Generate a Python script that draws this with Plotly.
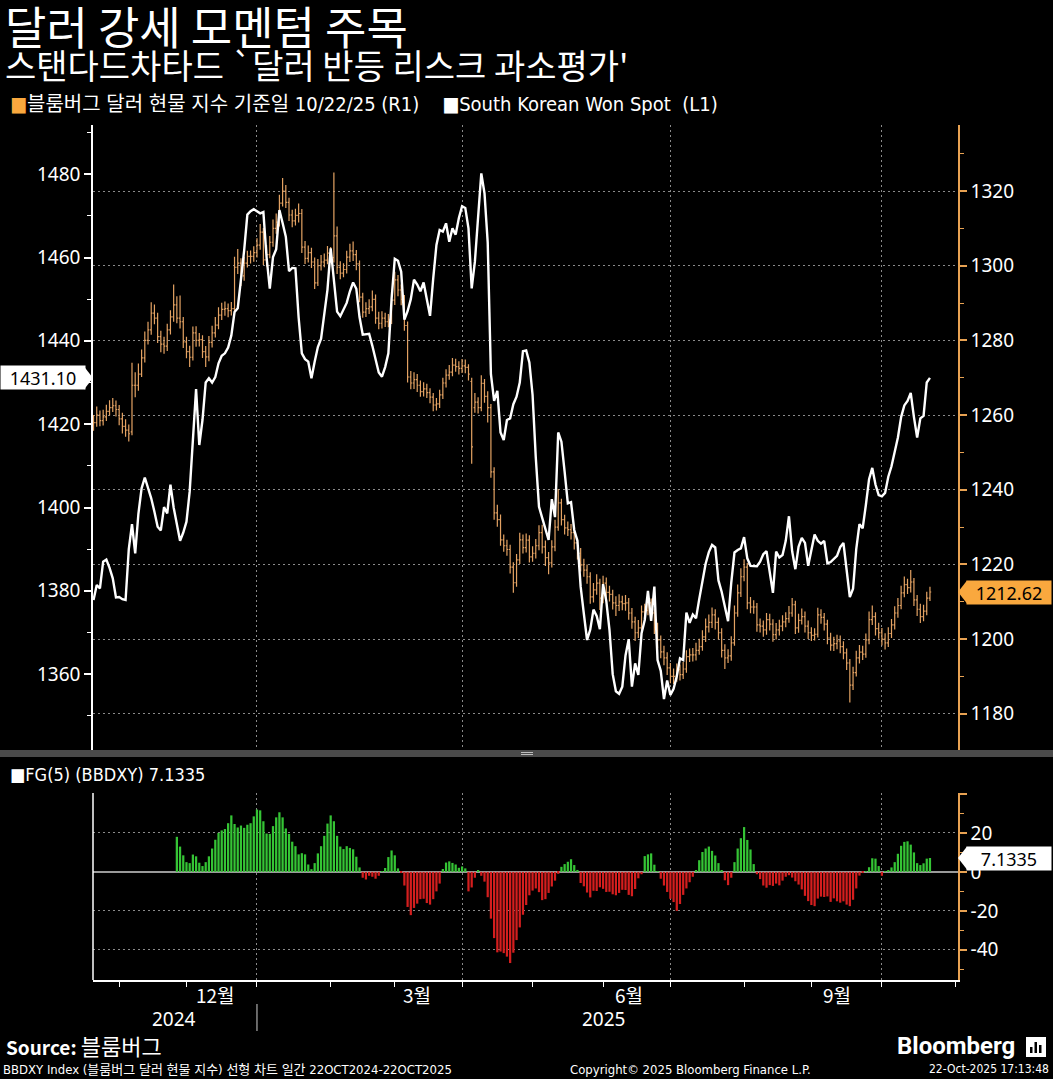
import plotly.graph_objects as go
import pandas as pd

W, H = 1053, 1079

# ---------------- data ----------------
dates = pd.bdate_range("2024-10-22", "2025-10-22")
fg_dates = pd.bdate_range("2024-11-27", "2025-10-22")

krw = [
    1377.8, 1381.4, 1380.6, 1387.0, 1387.5, 1385.5, 1383.0, 1378.4, 1378.5, 1378.0,
    1377.8, 1390.0, 1396.0, 1389.0, 1398.5, 1404.6, 1407.2, 1404.7, 1402.2, 1399.0,
    1395.4, 1394.5, 1400.1, 1398.6, 1405.5, 1400.0, 1395.6, 1392.0, 1394.0, 1396.6,
    1403.8, 1417.0, 1428.4, 1415.0, 1421.0, 1430.0, 1431.0, 1430.0, 1431.3, 1434.6,
    1436.4, 1437.0, 1438.4, 1441.3, 1446.9, 1447.8, 1454.3, 1461.7, 1470.3, 1471.1,
    1471.6, 1471.2, 1470.6, 1470.9, 1460.0, 1452.5, 1460.1, 1462.0, 1471.4, 1468.3,
    1465.0, 1456.7, 1457.5, 1457.4, 1445.6, 1437.0, 1435.6, 1435.0, 1431.0, 1435.0,
    1438.5, 1440.5, 1446.6, 1452.3, 1462.2, 1455.0, 1447.0, 1445.9, 1447.4, 1449.1,
    1451.9, 1454.0, 1452.5, 1445.7, 1441.5, 1441.6, 1441.7, 1438.8, 1435.8, 1432.4,
    1431.4, 1433.7, 1437.0, 1450.0, 1459.7, 1459.2, 1456.6, 1445.1, 1447.1, 1450.0,
    1454.7, 1453.5, 1451.9, 1454.0, 1450.0, 1446.0, 1455.0, 1463.0, 1466.6, 1466.2,
    1468.2, 1463.8, 1467.0, 1465.5, 1469.5, 1472.3, 1471.9, 1467.0, 1452.6, 1459.0,
    1469.7, 1480.2, 1475.4, 1463.6, 1432.0, 1425.6, 1428.0, 1418.0, 1416.2, 1421.0,
    1421.4, 1424.8, 1426.6, 1430.0, 1437.5, 1437.7, 1434.8, 1427.0, 1412.0, 1400.2,
    1397.5, 1395.0, 1392.2, 1402.0, 1397.7, 1418.0, 1415.8, 1408.6, 1401.0, 1401.3,
    1394.6, 1392.0, 1381.0, 1374.5, 1368.2, 1370.7, 1375.5, 1374.0, 1370.8, 1381.6,
    1377.6, 1370.6, 1360.0, 1355.9, 1355.3, 1357.0, 1364.5, 1368.4, 1357.0, 1362.6,
    1359.8, 1369.8, 1373.0, 1380.0, 1372.8, 1381.0, 1363.4, 1360.8, 1354.0, 1358.5,
    1355.0, 1356.5, 1359.5, 1363.8, 1363.4, 1374.8, 1372.3, 1374.3, 1373.4, 1378.0,
    1382.6, 1386.5, 1389.3, 1391.0, 1390.4, 1382.5, 1379.8, 1376.6, 1372.7, 1382.0,
    1389.2, 1389.8, 1390.2, 1392.9, 1387.8, 1386.0, 1385.9, 1385.9, 1387.0, 1388.8,
    1389.5, 1384.0, 1379.5, 1389.4, 1388.0, 1388.6, 1392.0, 1397.9, 1389.5, 1385.2,
    1390.6, 1392.7, 1391.5, 1386.0, 1389.6, 1393.5, 1392.0, 1391.3, 1392.0, 1386.6,
    1386.9, 1387.7, 1388.4, 1390.5, 1391.5, 1385.0, 1378.5, 1380.5, 1390.0, 1396.0,
    1395.0, 1400.6, 1406.8, 1409.5, 1405.5, 1403.0, 1402.7, 1403.5, 1407.4, 1409.9,
    1413.3, 1416.8, 1421.7, 1424.5, 1425.6, 1427.5, 1421.7, 1416.8, 1421.4, 1422.0,
    1430.0, 1431.1,
]

bb_open = [
    1257.5, 1258.0, 1260.0, 1258.5, 1259.5, 1261.0, 1262.0, 1262.5, 1261.5, 1259.0,
    1257.0, 1256.0, 1255.5, 1268.0, 1268.0, 1271.0, 1275.3, 1280.0, 1282.8, 1287.3,
    1286.0, 1281.0, 1279.0, 1278.5, 1282.8, 1286.3, 1289.5, 1286.0, 1285.0, 1279.6,
    1277.0, 1275.5, 1282.0, 1280.0, 1280.2, 1277.0, 1275.6, 1279.5, 1282.0, 1284.1,
    1286.8, 1288.3, 1288.5, 1288.0, 1288.5, 1299.6, 1300.7, 1297.3, 1300.7, 1302.5,
    1302.5, 1303.5, 1305.5, 1309.0, 1301.6, 1303.0, 1306.3, 1310.0, 1311.7, 1316.8,
    1320.0, 1317.0, 1313.6, 1312.0, 1313.5, 1314.0, 1305.0, 1302.0, 1303.5, 1301.0,
    1295.4, 1300.0, 1301.0, 1301.5, 1303.4, 1302.2, 1308.0, 1299.6, 1298.0, 1299.0,
    1302.3, 1304.0, 1303.0, 1300.5, 1291.6, 1287.6, 1288.5, 1289.0, 1291.0, 1286.0,
    1284.6, 1286.0, 1285.0, 1285.5, 1290.8, 1296.2, 1293.5, 1291.0, 1284.0, 1270.2,
    1268.6, 1269.5, 1268.0, 1266.3, 1267.0, 1266.0, 1264.8, 1262.7, 1263.0, 1265.4,
    1268.6, 1270.7, 1271.5, 1273.4, 1273.0, 1272.5, 1273.2, 1272.8, 1269.0, 1262.0,
    1263.5, 1262.0, 1268.5, 1265.0, 1262.0, 1244.8, 1233.8, 1232.0, 1226.6, 1225.0,
    1224.0, 1219.3, 1215.1, 1221.2, 1226.6, 1224.5, 1226.5, 1222.0, 1223.0, 1225.0,
    1228.5, 1224.7, 1221.8, 1220.4, 1224.7, 1230.0, 1236.5, 1232.0, 1229.8, 1229.3,
    1228.5, 1225.8, 1223.0, 1219.9, 1218.5, 1216.7, 1211.3, 1213.2, 1215.0, 1211.0,
    1215.0, 1212.5, 1212.0, 1209.7, 1209.0, 1210.0, 1209.5, 1209.7, 1207.0, 1204.6,
    1201.7, 1203.0, 1207.3, 1207.7, 1209.7, 1207.0, 1203.0, 1199.8, 1196.6, 1195.0,
    1192.3, 1190.0, 1190.0, 1191.8, 1190.5, 1192.0, 1195.3, 1195.8, 1195.8, 1197.0,
    1198.0, 1200.6, 1203.3, 1204.5, 1206.5, 1204.5, 1201.7, 1197.0, 1195.0, 1195.5,
    1199.0, 1207.0, 1212.4, 1216.7, 1219.3, 1209.7, 1208.6, 1208.6, 1203.8, 1203.5,
    1202.5, 1205.2, 1204.0, 1201.2, 1202.5, 1203.5, 1204.6, 1205.5, 1207.0, 1209.2,
    1203.0, 1205.0, 1206.0, 1203.5, 1201.7, 1201.0, 1201.3, 1206.5, 1205.8, 1204.0,
    1200.3, 1198.4, 1198.8, 1199.5, 1198.0, 1196.3, 1193.6, 1187.7, 1191.0, 1195.0,
    1196.5, 1196.0, 1199.8, 1205.2, 1206.0, 1202.8, 1201.7, 1200.0, 1199.0, 1201.5,
    1203.8, 1207.0, 1209.0, 1212.4, 1214.6, 1213.8, 1215.3, 1210.5, 1208.0, 1206.0,
    1207.5, 1211.0,
]

bb_high = [
    1260.0, 1262.3, 1261.2, 1261.4, 1262.8, 1264.0, 1264.6, 1263.9, 1262.7, 1260.6,
    1258.9, 1257.5, 1274.0, 1271.5, 1273.8, 1277.6, 1282.4, 1285.0, 1290.2, 1289.6,
    1287.4, 1282.6, 1281.0, 1284.5, 1288.1, 1295.0, 1291.8, 1292.0, 1286.3, 1281.0,
    1278.6, 1283.7, 1283.8, 1282.0, 1281.4, 1278.5, 1281.2, 1283.9, 1286.3, 1288.9,
    1290.1, 1290.4, 1289.9, 1290.3, 1302.4, 1304.5, 1302.0, 1302.4, 1304.0, 1304.1,
    1305.2, 1307.4, 1311.2, 1310.1, 1305.5, 1308.0, 1312.4, 1314.0, 1319.0, 1323.5,
    1321.6, 1318.2, 1315.0, 1315.3, 1316.7, 1315.2, 1306.6, 1305.4, 1304.8, 1302.2,
    1301.8, 1302.9, 1303.3, 1305.3, 1305.0, 1325.0, 1310.5, 1301.2, 1300.7, 1304.0,
    1305.9, 1306.5, 1304.2, 1301.4, 1292.8, 1290.2, 1291.0, 1293.4, 1292.3, 1287.7,
    1287.8, 1287.4, 1287.1, 1292.6, 1298.4, 1297.5, 1295.0, 1292.2, 1285.1, 1271.8,
    1271.5, 1271.0, 1269.3, 1268.8, 1268.4, 1267.2, 1265.9, 1264.6, 1266.8, 1270.0,
    1272.3, 1273.4, 1275.3, 1275.1, 1274.4, 1275.0, 1274.9, 1273.6, 1270.0, 1265.9,
    1264.8, 1270.7, 1269.7, 1266.4, 1263.0, 1246.0, 1236.0, 1233.4, 1228.0, 1226.6,
    1225.3, 1220.6, 1222.8, 1228.5, 1228.0, 1228.3, 1227.8, 1224.9, 1226.8, 1230.5,
    1230.6, 1226.4, 1223.3, 1226.5, 1232.0, 1240.2, 1237.6, 1233.3, 1231.5, 1230.8,
    1230.0, 1227.0, 1224.4, 1221.5, 1220.0, 1217.9, 1215.0, 1217.4, 1216.2, 1217.0,
    1216.5, 1214.3, 1213.2, 1211.5, 1212.0, 1211.6, 1211.8, 1211.0, 1208.3, 1206.0,
    1205.1, 1209.0, 1209.5, 1211.4, 1210.9, 1208.2, 1204.4, 1201.0, 1198.2, 1196.5,
    1193.6, 1192.1, 1193.5, 1193.2, 1193.9, 1197.0, 1197.5, 1197.6, 1199.0, 1200.1,
    1202.4, 1205.5, 1206.6, 1208.5, 1208.0, 1205.8, 1202.9, 1198.6, 1197.3, 1200.8,
    1209.0, 1214.6, 1219.0, 1221.4, 1220.4, 1211.3, 1210.4, 1209.7, 1205.5, 1205.0,
    1207.0, 1206.8, 1205.3, 1204.3, 1205.2, 1206.4, 1207.2, 1208.9, 1211.0, 1210.3,
    1206.8, 1208.2, 1207.4, 1205.0, 1203.2, 1202.9, 1208.4, 1208.0, 1207.0, 1205.2,
    1201.7, 1200.6, 1201.2, 1201.0, 1199.4, 1197.5, 1194.7, 1192.6, 1196.9, 1198.4,
    1198.2, 1201.5, 1207.4, 1209.0, 1207.2, 1204.4, 1203.0, 1201.6, 1203.2, 1205.4,
    1208.8, 1211.0, 1214.3, 1216.8, 1216.2, 1218.5, 1216.4, 1211.8, 1209.5, 1209.2,
    1212.7, 1214.0,
]

bb_low = [
    1255.8, 1256.9, 1257.0, 1257.2, 1258.4, 1259.9, 1260.8, 1259.6, 1257.3, 1255.1,
    1254.2, 1252.9, 1254.6, 1264.8, 1266.5, 1270.2, 1274.1, 1278.9, 1281.5, 1284.3,
    1279.3, 1276.8, 1276.4, 1277.2, 1281.6, 1285.0, 1284.6, 1283.2, 1278.0, 1275.2,
    1272.9, 1274.6, 1278.3, 1278.4, 1275.3, 1272.9, 1274.4, 1278.1, 1280.8, 1283.0,
    1285.5, 1286.6, 1286.2, 1286.7, 1287.9, 1297.8, 1294.6, 1296.0, 1299.5, 1300.6,
    1301.1, 1302.2, 1304.3, 1300.2, 1299.8, 1302.0, 1305.1, 1308.6, 1310.5, 1315.9,
    1315.5, 1312.0, 1310.3, 1310.8, 1311.6, 1303.4, 1300.5, 1300.9, 1299.4, 1293.8,
    1294.6, 1298.7, 1299.6, 1300.4, 1300.8, 1300.9, 1297.8, 1296.4, 1296.9, 1297.9,
    1301.0, 1301.3, 1298.8, 1290.2, 1286.1, 1286.3, 1287.1, 1287.8, 1284.5, 1283.0,
    1283.2, 1283.6, 1283.5, 1284.4, 1289.5, 1291.8, 1289.4, 1282.6, 1268.7, 1266.9,
    1267.0, 1266.2, 1264.9, 1265.0, 1264.6, 1263.2, 1261.0, 1261.2, 1261.9, 1264.3,
    1267.4, 1269.5, 1270.4, 1271.6, 1270.9, 1271.3, 1271.2, 1269.3, 1247.0, 1260.6,
    1260.4, 1261.0, 1263.3, 1258.0, 1243.2, 1232.0, 1230.1, 1225.0, 1223.4, 1222.3,
    1217.6, 1212.4, 1214.0, 1220.1, 1222.9, 1223.2, 1220.5, 1220.7, 1221.6, 1223.8,
    1222.9, 1219.6, 1217.4, 1219.2, 1223.5, 1229.0, 1230.4, 1228.0, 1227.6, 1226.7,
    1224.0, 1221.3, 1218.1, 1216.7, 1214.8, 1209.5, 1209.8, 1211.9, 1207.8, 1209.6,
    1210.8, 1210.1, 1207.9, 1206.2, 1207.5, 1207.7, 1207.6, 1205.2, 1202.8, 1199.5,
    1200.3, 1202.1, 1205.9, 1206.4, 1205.3, 1201.4, 1197.6, 1194.9, 1193.0, 1190.4,
    1188.2, 1188.0, 1188.6, 1188.9, 1189.3, 1191.0, 1193.9, 1194.0, 1194.3, 1195.8,
    1196.9, 1199.2, 1201.8, 1203.0, 1202.6, 1199.9, 1195.1, 1192.0, 1193.6, 1194.2,
    1198.2, 1206.0, 1211.3, 1215.5, 1208.0, 1206.9, 1206.8, 1202.0, 1201.8, 1200.6,
    1201.2, 1202.3, 1199.3, 1199.9, 1201.0, 1202.1, 1203.2, 1204.4, 1206.0, 1201.4,
    1201.7, 1203.9, 1201.8, 1200.0, 1199.5, 1199.6, 1200.4, 1204.1, 1202.3, 1198.6,
    1196.9, 1196.8, 1197.3, 1196.2, 1194.6, 1191.7, 1183.0, 1186.4, 1190.0, 1193.5,
    1194.4, 1195.0, 1198.6, 1203.8, 1201.0, 1200.1, 1198.3, 1197.2, 1197.9, 1200.3,
    1202.6, 1205.7, 1208.0, 1211.2, 1212.1, 1212.5, 1208.9, 1206.2, 1204.3, 1204.8,
    1206.4, 1210.2,
]

bb_close = [
    1258.0, 1260.0, 1258.5, 1259.5, 1261.0, 1262.0, 1262.5, 1261.5, 1259.0, 1257.0,
    1256.0, 1255.0, 1268.0, 1268.0, 1271.0, 1275.3, 1280.0, 1282.8, 1287.3, 1286.0,
    1281.0, 1279.0, 1278.5, 1282.8, 1286.3, 1289.5, 1286.0, 1285.0, 1279.6, 1277.0,
    1275.5, 1282.0, 1280.0, 1280.2, 1277.0, 1275.6, 1279.5, 1282.0, 1284.1, 1286.8,
    1288.3, 1288.5, 1288.0, 1288.5, 1299.6, 1300.7, 1297.3, 1300.7, 1302.5, 1302.5,
    1303.5, 1305.5, 1309.0, 1301.6, 1303.0, 1306.3, 1310.0, 1311.7, 1316.8, 1320.0,
    1317.0, 1313.6, 1312.0, 1313.5, 1314.0, 1305.0, 1302.0, 1303.5, 1301.0, 1295.4,
    1300.0, 1301.0, 1301.5, 1303.4, 1302.2, 1308.0, 1299.6, 1298.0, 1299.0, 1302.3,
    1304.0, 1303.0, 1300.5, 1291.6, 1287.6, 1288.5, 1289.0, 1291.0, 1286.0, 1284.6,
    1286.0, 1285.0, 1285.5, 1290.8, 1296.2, 1293.5, 1291.0, 1284.0, 1270.2, 1268.6,
    1269.5, 1268.0, 1266.3, 1267.0, 1266.0, 1264.8, 1262.7, 1263.0, 1265.4, 1268.6,
    1270.7, 1271.5, 1273.4, 1273.0, 1272.5, 1273.2, 1272.8, 1271.0, 1251.5, 1263.5,
    1262.0, 1268.5, 1265.0, 1262.0, 1244.8, 1233.8, 1232.0, 1226.6, 1225.0, 1224.0,
    1219.3, 1215.1, 1221.2, 1226.6, 1224.5, 1226.5, 1222.0, 1223.0, 1225.0, 1228.5,
    1224.7, 1221.8, 1220.4, 1224.7, 1230.0, 1236.5, 1232.0, 1229.8, 1229.3, 1228.5,
    1225.8, 1223.0, 1219.9, 1218.5, 1216.7, 1211.3, 1213.2, 1215.0, 1211.0, 1215.0,
    1212.5, 1212.0, 1209.7, 1209.0, 1210.0, 1209.5, 1209.7, 1207.0, 1204.6, 1201.7,
    1203.0, 1207.3, 1207.7, 1209.7, 1207.0, 1203.0, 1199.8, 1196.6, 1195.0, 1192.3,
    1190.0, 1190.0, 1191.8, 1190.5, 1192.0, 1195.3, 1195.8, 1195.8, 1197.0, 1198.0,
    1200.6, 1203.3, 1204.5, 1206.5, 1204.5, 1201.7, 1197.0, 1195.0, 1195.5, 1199.0,
    1207.0, 1212.4, 1216.7, 1219.3, 1209.7, 1208.6, 1208.6, 1203.8, 1203.5, 1202.5,
    1205.2, 1204.0, 1201.2, 1202.5, 1203.5, 1204.6, 1205.5, 1207.0, 1209.2, 1203.0,
    1205.0, 1206.0, 1203.5, 1201.7, 1201.0, 1201.3, 1206.5, 1205.8, 1204.0, 1200.3,
    1198.4, 1198.8, 1199.5, 1198.0, 1196.3, 1193.6, 1187.7, 1191.0, 1195.0, 1196.5,
    1196.0, 1199.8, 1205.2, 1206.0, 1202.8, 1201.7, 1200.0, 1199.0, 1201.5, 1203.8,
    1207.0, 1209.0, 1212.4, 1214.6, 1213.8, 1215.3, 1210.5, 1208.0, 1206.0, 1207.5,
    1211.0, 1212.62,
]

fg = [
    18.0, 13.0, 8.5, 5.0, 4.5, 8.9, 8.0, 4.7, 3.0, 5.0,
    8.0, 12.0, 16.5, 20.0, 21.3, 22.0, 25.0, 29.0, 24.6, 22.8,
    23.8, 22.6, 24.2, 25.0, 28.5, 32.0, 31.6, 26.0, 19.7, 19.5,
    23.5, 28.0, 30.6, 28.0, 22.3, 19.5, 15.5, 13.2, 9.0, 9.6,
    9.0, 3.8, 1.4, 4.5, 9.5, 13.2, 18.5, 24.8, 29.0, 26.0,
    18.5, 13.0, 11.7, 13.2, 12.3, 11.6, 7.8, 2.3, -3.0, -3.9,
    -2.0, -2.5, -3.5, -2.0, 0.3, 2.0, 7.6, 11.0, 8.5, 1.8,
    -0.6, -7.0, -18.0, -22.2, -18.5, -16.3, -14.0, -13.8, -16.0, -16.8,
    -14.0, -10.0, -6.0, 1.5, 4.8, 5.4, 4.6, 3.8, 2.1, 2.8,
    1.8, -10.0, -8.0, -3.0, 0.5, -2.0, -5.0, -13.0, -24.0, -34.0,
    -41.3, -40.9, -41.7, -43.5, -46.8, -41.5, -35.0, -28.5, -22.0, -17.0,
    -12.0, -9.6, -8.5, -10.4, -14.5, -14.0, -10.8, -7.5, -4.5, -1.0,
    2.6, 4.0, 5.2, 6.5, 3.5, 1.0, -5.7, -7.4, -10.6, -13.1,
    -9.7, -9.8, -7.9, -8.7, -10.3, -10.2, -11.5, -12.0, -10.8, -9.2,
    -9.3, -11.8, -12.5, -8.8, -3.3, -1.2, 8.1, 9.0, 9.5, 3.7,
    0.4, -3.5, -7.0, -10.3, -13.8, -15.5, -20.0, -16.5, -11.8, -8.5,
    -5.3, -2.5, 0.6, 6.0, 10.2, 12.0, 13.0, 10.8, 8.4, 4.5,
    0.8, -4.3, -6.8, -3.0, 5.0, 12.0, 17.3, 23.0, 16.4, 11.5,
    4.0, -1.2, -3.7, -7.0, -8.1, -6.8, -7.2, -6.0, -6.9, -4.5,
    -2.5, -1.7, -2.9, -4.8, -6.5, -9.0, -12.3, -15.0, -17.0, -17.6,
    -13.7, -12.7, -12.9, -12.6, -15.4, -13.6, -15.1, -15.8, -15.1, -16.8,
    -17.6, -14.3, -8.5, -1.9, -0.6, 0.3, 2.4, 7.0, 6.8, 3.0,
    -2.0, 0.3, 0.9, 2.3, 5.0, 9.3, 13.4, 15.4, 15.7, 14.0,
    10.0, 4.5, 3.5, 4.4, 6.8, 7.1335,
]

krw_ticks = [1360, 1380, 1400, 1420, 1440, 1460, 1480]
bb_ticks = [1180, 1200, 1220, 1240, 1260, 1280, 1300, 1320]
fg_ticks = [-40, -20, 0, 20, 40]
fg_ticktext = ["-40", "-20", "0", "20", ""]

quarter_starts = ["2025-01-01", "2025-04-01", "2025-07-01", "2025-10-01"]
month_starts = ["2024-11-01", "2024-12-02", "2025-01-01", "2025-02-03", "2025-03-03",
                "2025-04-01", "2025-05-01", "2025-06-02", "2025-07-01", "2025-08-01",
                "2025-09-01", "2025-10-01", "2025-11-03"]
month_labels = ["12월", "3월", "6월", "9월"]
month_label_dates = ["2024-12-13", "2025-03-12", "2025-06-12", "2025-09-11"]
year_labels = ["2024", "2025"]
year_label_dates = ["2024-11-26", "2025-06-02"]
year_boundary = "2025-01-01"

title = "달러 강세 모멘텀 주목"
subtitle = "스탠다드차타드 `달러 반등 리스크 과소평가'"
legend_bb = "블룸버그 달러 현물 지수 기준일 10/22/25 (R1)"
legend_krw = "South Korean Won Spot  (L1)"
legend_fg = "FG(5) (BBDXY) "
footer_left = "BBDXY Index (블룸버그 달러 현물 지수) 선형 차트 일간 22OCT2024-22OCT2025"
footer_mid = "Copyright© 2025 Bloomberg Finance L.P."
footer_right = "22-Oct-2025 17:13:48"

# ---------------- style ----------------
ORANGE = "#E3A263"
AXIS_OR = "#E8A252"
TAG_OR = "#F9A83E"
GREEN = "#35C435"
RED = "#D41E1E"
GRID = "#8a8a8a"
KFONT = "Noto Sans CJK KR"
NFONT = "Liberation Sans Narrow, Arial Narrow, DejaVu Sans Condensed, Noto Sans CJK KR"
TFONT = "Noto Sans, Noto Sans CJK KR"

XL, XR = 93, 958
TOP_T, TOP_B = 125, 750
BOT_T, BOT_B = 793, 980
px = lambda v: v / W
py = lambda v: 1 - v / H

krw_range = [1341.8, 1491.8]
bb_range = [1170.3, 1337.7]
fg_range = [-55.5, 40.5]
x_range = ["2024-10-21 20:00", "2025-11-03 18:00"]
rb = [dict(bounds=["sat", "mon"])]

fig = go.Figure()

fig.add_trace(go.Ohlc(
    x=dates, open=bb_open, high=bb_high, low=bb_low, close=bb_close,
    increasing=dict(line=dict(color=ORANGE, width=1.2)),
    decreasing=dict(line=dict(color=ORANGE, width=1.2)),
    tickwidth=0.4, xaxis="x", yaxis="y", hoverinfo="skip", showlegend=False,
))
fig.add_trace(go.Scatter(
    x=dates, y=krw, mode="lines", line=dict(color="white", width=2.4),
    xaxis="x", yaxis="y2", hoverinfo="skip", showlegend=False,
))
fig.add_trace(go.Bar(
    x=fg_dates, y=fg, marker=dict(color=[GREEN if v >= 0 else RED for v in fg], line=dict(width=0)),
    xaxis="x2", yaxis="y3", hoverinfo="skip", showlegend=False,
))

tickfont = dict(family=TFONT, size=19, color="white")

fig.update_layout(
    width=W, height=H, margin=dict(l=0, r=0, t=0, b=0),
    paper_bgcolor="black", plot_bgcolor="black",
    showlegend=False, hovermode=False, bargap=0.3,
    xaxis=dict(
        domain=[px(XL), px(XR)], anchor="y", range=x_range, rangebreaks=rb,
        tickmode="array", tickvals=quarter_starts, showticklabels=False, ticks="",
        showgrid=True, gridcolor=GRID, gridwidth=1, griddash="2px,3px",
        showline=False, zeroline=False, rangeslider=dict(visible=False),
    ),
    xaxis2=dict(
        domain=[px(XL), px(XR)], anchor="y3", range=x_range, rangebreaks=rb,
        tickmode="array", tickvals=quarter_starts, showticklabels=False,
        ticks="outside", ticklen=5, tickcolor="white", tickwidth=1,
        minor=dict(tickmode="array", tickvals=month_starts, ticks="outside",
                   ticklen=5, tickcolor="white", tickwidth=1, showgrid=False),
        showgrid=True, gridcolor=GRID, gridwidth=1, griddash="2px,3px",
        showline=True, linecolor="white", linewidth=1.5, zeroline=False,
    ),
    yaxis=dict(
        domain=[py(TOP_B), py(TOP_T)], anchor="x", side="right", range=bb_range,
        tickmode="array", tickvals=bb_ticks, tickfont=tickfont,
        ticks="outside", ticklen=7, tickwidth=2, tickcolor=AXIS_OR,
        minor=dict(dtick=10, tick0=1170, ticks="outside", ticklen=4,
                   tickcolor=AXIS_OR, tickwidth=1, showgrid=False),
        showline=True, linecolor=AXIS_OR, linewidth=1.5,
        showgrid=True, gridcolor=GRID, gridwidth=1, griddash="2px,3px",
        zeroline=False,
    ),
    yaxis2=dict(
        overlaying="y", anchor="x", side="left", range=krw_range,
        tickmode="array", tickvals=krw_ticks, tickfont=tickfont,
        ticks="outside", ticklen=7, tickwidth=2, tickcolor="white",
        minor=dict(dtick=10, tick0=1340, ticks="outside", ticklen=4,
                   tickcolor="white", tickwidth=1, showgrid=False),
        showline=True, linecolor="white", linewidth=1.5,
        showgrid=False, zeroline=False,
    ),
    yaxis3=dict(
        domain=[py(BOT_B), py(BOT_T)], anchor="x2", side="right", range=fg_range,
        tickmode="array", tickvals=fg_ticks, ticktext=fg_ticktext, tickfont=tickfont,
        ticks="outside", ticklen=7, tickwidth=2, tickcolor=AXIS_OR,
        minor=dict(dtick=10, tick0=-50, ticks="outside", ticklen=4,
                   tickcolor=AXIS_OR, tickwidth=1, showgrid=False),
        showline=True, linecolor=AXIS_OR, linewidth=1.5,
        showgrid=True, gridcolor=GRID, gridwidth=1, griddash="2px,3px",
        zeroline=True, zerolinecolor="#9a9a9a", zerolinewidth=1.5,
    ),
)

ann = []
def text(x, y, s, size, family=KFONT, color="white", xanchor="left", **kw):
    ann.append(dict(x=px(x), y=py(y), xref="paper", yref="paper", text=s, showarrow=False,
                    xanchor=xanchor, yanchor="middle", font=dict(family=family, size=size, color=color), **kw))

text(3, 25, title, 45)
text(3, 64, subtitle, 34)
text(8, 104, f'<span style="color:{TAG_OR}">■</span>{legend_bb}    <span style="color:white">■</span>{legend_krw}', 20, family=NFONT)
text(8, 775, f'■{legend_fg}{fg[-1]:.4f}', 18, family=NFONT)
text(4, 1045, '<b>Source:</b> <span style="font-size:22px">블룸버그</span>', 19, family=KFONT)
text(1, 1069, footer_left, 13, family=NFONT)
text(568, 1069, footer_mid, 13, family=NFONT)
text(1051, 1069, footer_right, 12, family=NFONT, xanchor="right")
text(1017, 1046, "<b>Bloomberg</b>", 24, family="Roboto, Inter, Noto Sans", xanchor="right")

for d, s in zip(month_label_dates, month_labels):
    ann.append(dict(x=d, y=py(994), xref="x2", yref="paper", text=s, showarrow=False,
                    xanchor="center", yanchor="middle", font=dict(family=KFONT, size=19, color="white")))
for d, s in zip(year_label_dates, year_labels):
    ann.append(dict(x=d, y=py(1019), xref="x2", yref="paper", text=s, showarrow=False,
                    xanchor="center", yanchor="middle", font=dict(family=TFONT, size=19, color="white")))

# value tags
TAG_H = 23
def tag(xpx, yref, val, label, bg):
    ann.append(dict(x=px(xpx), y=val, xref="paper", yref=yref, text=label, showarrow=False,
                    xanchor="left", yanchor="middle", bgcolor=bg, width=82, height=TAG_H - 2,
                    borderpad=1, align="center",
                    font=dict(family=TFONT, size=18, color="black")))

krw_last, bb_last, fg_last = krw[-1], bb_close[-1], fg[-1]
tag(0, "y2", krw_last, f"{krw_last:.2f}", "white")
tag(966, "y", bb_last, f"{bb_last:.2f}", TAG_OR)
tag(966, "y3", fg_last, f"{fg_last:.4f}", "white")

def half(rng, top, bot):
    return (TAG_H / 2) * (rng[1] - rng[0]) / (bot - top)

shapes = []
def tri(yref, v, hh, base_x, tip_x, color):
    shapes.append(dict(type="path", xref="paper", yref=yref, line=dict(width=0), fillcolor=color,
                       path=f"M {px(base_x)},{v + hh} L {px(tip_x)},{v} L {px(base_x)},{v - hh} Z"))

tri("y2", krw_last, half(krw_range, TOP_T, TOP_B), 84, XL, "white")
tri("y", bb_last, half(bb_range, TOP_T, TOP_B), 967, XR, TAG_OR)
tri("y3", fg_last, half(fg_range, BOT_T, BOT_B), 967, XR, "white")

# panel separator bar
shapes.append(dict(type="rect", xref="paper", yref="paper", x0=0, x1=1, y0=py(757), y1=py(750),
                   fillcolor="#4a4a4a", line=dict(width=0)))
for yy in (752.5, 754.5):
    shapes.append(dict(type="line", xref="paper", yref="paper", x0=px(521), x1=px(533), y0=py(yy), y1=py(yy),
                       line=dict(color="#bdbdbd", width=1)))
# left border of lower panel
shapes.append(dict(type="line", xref="paper", yref="paper", x0=px(XL), x1=px(XL), y0=py(BOT_B), y1=py(BOT_T),
                   line=dict(color="white", width=1.5)))
# year boundary divider
shapes.append(dict(type="line", xref="x2", yref="paper", x0=year_boundary, x1=year_boundary,
                   y0=py(1031), y1=py(1004), line=dict(color="#cfcfcf", width=1)))
# bloomberg icon
shapes.append(dict(type="rect", xref="paper", yref="paper", x0=px(1026), x1=px(1046), y0=py(1057), y1=py(1037),
                   fillcolor="white", line=dict(width=0)))
for x0, top in ((1030, 1047), (1034.5, 1042), (1039, 1045)):
    shapes.append(dict(type="rect", xref="paper", yref="paper", x0=px(x0), x1=px(x0 + 2.5), y0=py(1053), y1=py(top),
                       fillcolor="black", line=dict(width=0)))

fig.update_layout(annotations=ann, shapes=shapes)
fig.write_html("out.html", config={"displayModeBar": False},
               post_script="document.body.style.margin='0';document.body.style.overflow='hidden';")
